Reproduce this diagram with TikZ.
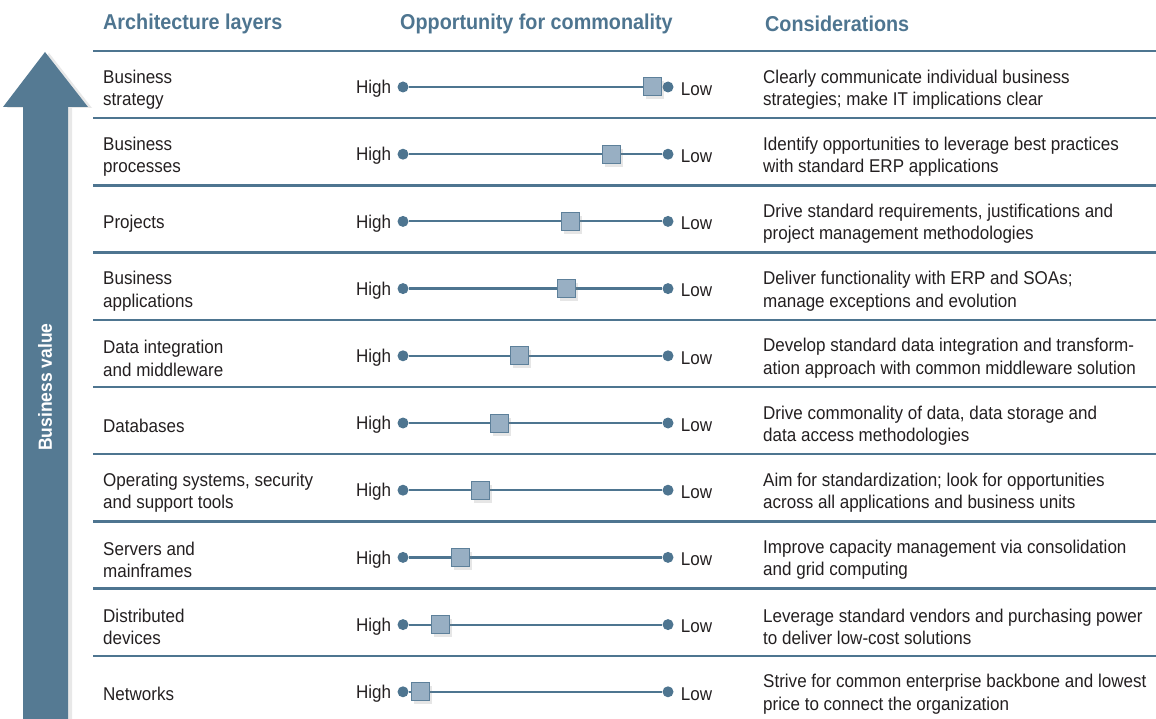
\documentclass[tikz,border=0pt]{standalone}
\usepackage{fontspec}
\setmainfont{Liberation Sans}[FakeStretch=0.92]
\usepackage{tikz}
\usetikzlibrary{positioning,shadows,calc}
\definecolor{archSteel}{HTML}{4E7590}
\definecolor{archArrow}{HTML}{557A93}
\definecolor{archKnob}{HTML}{98AFC3}
\definecolor{archEdge}{HTML}{5D809A}
\definecolor{archInk}{HTML}{231F20}
\tikzset{
  colhead/.style={font=\fontsize{21.5}{24}\selectfont\bfseries,text=archSteel,
    anchor=west,inner sep=0pt},
  layer/.style={font=\fontsize{18.5}{22.5}\selectfont,text=archInk,align=left,
    anchor=west,inner sep=0pt,yshift=-2.5pt},
  note/.style={layer},
  endlabel/.style={font=\fontsize{18.5}{22.5}\selectfont,text=archInk,inner sep=0pt,
    yshift=-2pt},
  dot/.style={circle,fill=archSteel,minimum size=11pt,inner sep=0pt},
  rail/.style={line width=2.2pt,archSteel},
  knob/.style={draw=archEdge,fill=archKnob,line width=1pt,minimum size=18pt,
    inner sep=0pt,drop shadow={shadow xshift=2.5pt,shadow yshift=-3.5pt,opacity=0.2}},
  rule/.style={line width=2.4pt,archSteel}
}

\begin{document}
\begin{tikzpicture}[x=1pt,y=-1pt]
  \useasboundingbox (0,0) rectangle (1156,719);
  % business value arrow
  \fill[archArrow,drop shadow={shadow xshift=4pt,shadow yshift=-1pt,opacity=0.18}]
    (45,52) -- (88,107) -- (68,107) -- (68,730) -- (23,730) -- (23,107) -- (3,107) -- cycle;
  \node[rotate=90,font=\fontsize{19}{22}\selectfont\bfseries,text=white] (value) at (45,387) {Business value};
  % column heads
  \node[colhead] (hlayer) at (103,24) {Architecture layers};
  \node[colhead] (hcommon) at (400,24) {Opportunity for commonality};
  \node[colhead] (hcons) at (765,24) {Considerations};
  % one row per layer
  \foreach \i/\nm/\pos/\txt in {
    1/{Business\\strategy}/652/{Clearly communicate individual business\\strategies; make IT implications clear},
    2/{Business\\processes}/611/{Identify opportunities to leverage best practices\\with standard ERP applications},
    3/{Projects}/570/{Drive standard requirements, justifications and\\project management methodologies},
    4/{Business\\applications}/566/{Deliver functionality with ERP and SOAs;\\manage exceptions and evolution},
    5/{Data integration\\and middleware}/519/{Develop standard data integration and transform-\\ation approach with common middleware solution},
    6/{Databases}/499/{Drive commonality of data, data storage and\\data access methodologies},
    7/{Operating systems, security\\and support tools}/480/{Aim for standardization; look for opportunities\\across all applications and business units},
    8/{Servers and\\mainframes}/460/{Improve capacity management via consolidation\\and grid computing},
    9/{Distributed\\devices}/440/{Leverage standard vendors and purchasing power\\to deliver low-cost solutions},
    10/{Networks}/420/{Strive for common enterprise backbone and lowest\\price to connect the organization}}{
    \pgfmathsetmacro{\yy}{87+(\i-1)*67.2}
    \draw[rule] (93,\yy-36) -- (1156,\yy-36);
    \node[layer] (layer\i) at (103,\yy) {\nm};
    \node[dot] (hi\i) at (403,\yy) {};
    \node[dot] (lo\i) at (668,\yy) {};
    \node[endlabel,left=6pt of hi\i] (high\i) {High};
    \node[endlabel,right=7pt of lo\i] (low\i) {Low};
    \draw[rail] (hi\i) -- (lo\i);
    \node[knob] (knob\i) at (\pos,\yy) {};
    \node[note] (note\i) at (763,\yy) {\txt};
  }
\end{tikzpicture}
\end{document}
